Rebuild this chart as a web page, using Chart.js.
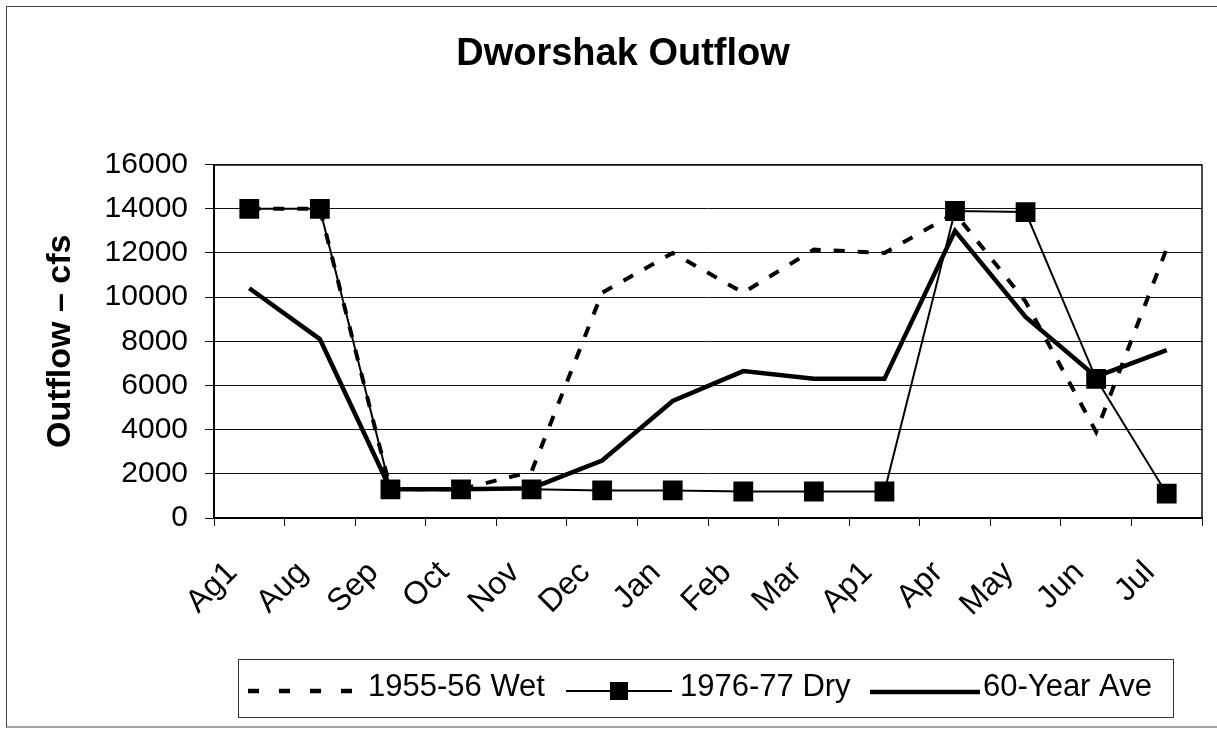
<!DOCTYPE html>
<html>
<head>
<meta charset="utf-8">
<script src="https://cdn.jsdelivr.net/npm/chart.js@4.4.1/dist/chart.umd.min.js"></script>
<style>
  html, body { margin: 0; padding: 0; background: #ffffff; }
  #wrap { width: 1217px; height: 730px; position: relative; }
  canvas { display: block; }
</style>
</head>
<body>
<div id="wrap"><canvas id="c" width="1217" height="730"></canvas></div>
<script>
// ---- data ----
const months = ['Ag1', 'Aug', 'Sep', 'Oct', 'Nov', 'Dec', 'Jan', 'Feb', 'Mar', 'Ap1', 'Apr', 'May', 'Jun', 'Jul'];
const wet1955 = [14000, 14000, 1300, 1300, 2100, 10200, 12000, 10200, 12150, 12000, 13800, 9800, 3900, 12200];
const dry1976 = [14000, 14000, 1300, 1300, 1300, 1250, 1250, 1200, 1200, 1200, 13900, 13850, 6300, 1100];
const ave60 = [10400, 8100, 1300, 1300, 1350, 2600, 5300, 6650, 6300, 6300, 13000, 9100, 6400, 7600];
const seriesNames = ['1955-56 Wet', '1976-77 Dry', '60-Year Ave'];
const yMin = 0, yMax = 16000, yStep = 2000;
const chartTitle = 'Dworshak Outflow';
const yTitle = 'Outflow \u2013 cfs';

const FONT = "'Liberation Sans', Arial, Helvetica, sans-serif";

const framePlugin = {
  id: 'frame',
  beforeDraw(chart) {
    const ctx = chart.ctx;
    ctx.save();
    ctx.fillStyle = '#ffffff';
    ctx.fillRect(0, 0, chart.width, chart.height);
    ctx.strokeStyle = '#444';
    ctx.lineWidth = 1;
    ctx.strokeRect(6.5, 6.5, 1240, 720.5);
    ctx.restore();
  },
  afterDatasetsDraw(chart) {
    const ctx = chart.ctx;
    const a = chart.chartArea;
    ctx.save();
    ctx.strokeStyle = '#111';
    ctx.lineWidth = 1.5;
    ctx.beginPath();
    ctx.moveTo(a.left, a.top + 0.5);
    ctx.lineTo(a.right, a.top + 0.5);
    ctx.lineTo(a.right, a.bottom);
    ctx.stroke();
    ctx.restore();
  },
  afterDraw(chart) {
    const ctx = chart.ctx;
    const ds = chart.data.datasets;
    ctx.save();
    // legend box
    ctx.strokeStyle = '#333';
    ctx.lineWidth = 1;
    ctx.strokeRect(238.5, 659.5, 935, 58);
    const ly = 691;
    ctx.strokeStyle = '#000';
    ctx.lineCap = 'butt';
    // wet sample
    ctx.lineWidth = ds[0].borderWidth + 0.5;
    ctx.setLineDash([11, 20]);
    ctx.beginPath(); ctx.moveTo(248, ly); ctx.lineTo(352, ly); ctx.stroke();
    ctx.setLineDash([]);
    // dry sample
    ctx.lineWidth = ds[1].borderWidth;
    ctx.beginPath(); ctx.moveTo(566, ly); ctx.lineTo(672, ly); ctx.stroke();
    ctx.fillStyle = '#000';
    ctx.fillRect(610, ly - 9, 18, 18);
    // ave sample
    ctx.lineWidth = ds[2].borderWidth;
    ctx.beginPath(); ctx.moveTo(870, ly + 1); ctx.lineTo(980, ly + 1); ctx.stroke();
    // texts
    ctx.fillStyle = '#000';
    ctx.font = '31px ' + FONT;
    ctx.textBaseline = 'alphabetic';
    ctx.textAlign = 'left';
    ctx.fillText(ds[0].label, 368, 696);
    ctx.fillText(ds[1].label, 680, 696);
    ctx.fillText(ds[2].label, 983, 696);
    ctx.restore();
  }
};

new Chart(document.getElementById('c'), {
  type: 'line',
  data: {
    labels: months,
    datasets: [
      {
        label: seriesNames[0], data: wet1955,
        borderColor: '#000', backgroundColor: '#000',
        borderWidth: 4, borderDash: [11, 13], pointRadius: 0,
        tension: 0, order: 1
      },
      {
        label: seriesNames[1], data: dry1976,
        borderColor: '#000', backgroundColor: '#000',
        borderWidth: 2, pointStyle: 'rect', pointRadius: 14,
        pointBackgroundColor: '#000', pointBorderColor: '#000', pointBorderWidth: 0,
        tension: 0, order: 0
      },
      {
        label: seriesNames[2], data: ave60,
        borderColor: '#000', backgroundColor: '#000',
        borderWidth: 4.5, pointRadius: 0,
        tension: 0, order: 2
      }
    ]
  },
  options: {
    responsive: false,
    animation: false,
    devicePixelRatio: 1,
    layout: { padding: { left: 44, right: 15, top: 0, bottom: 72 } },
    plugins: {
      legend: { display: false },
      tooltip: { enabled: false },
      title: {
        display: true,
        text: chartTitle,
        color: '#000',
        font: { family: FONT, size: 38, weight: 'bold', lineHeight: 1.2 },
        padding: { top: 32, bottom: 87 }
      }
    },
    scales: {
      x: {
        type: 'category',
        offset: true,
        afterFit(scale) { scale.height = 140; scale.paddingRight = 0; scale.paddingLeft = 0; },
        grid: {
          offset: true,
          drawOnChartArea: false,
          drawTicks: true,
          tickLength: 8,
          color: '#111',
          lineWidth: 1
        },
        border: { display: true, color: '#000', width: 2 },
        ticks: {
          autoSkip: false,
          minRotation: 45,
          maxRotation: 45,
          padding: 28,
          labelOffset: -17,
          color: '#000',
          font: { family: FONT, size: 32, lineHeight: 1.2 }
        }
      },
      y: {
        min: yMin,
        max: yMax,
        afterFit(scale) { scale.width = 170; },
        grid: {
          drawOnChartArea: true,
          drawTicks: true,
          tickLength: 9,
          color: '#111',
          lineWidth: 1
        },
        border: { display: true, color: '#000', width: 2 },
        ticks: {
          stepSize: yStep,
          padding: 17,
          color: '#000',
          font: { family: FONT, size: 30, lineHeight: 1.2 },
          callback: (v) => String(v)
        },
        title: {
          display: true,
          text: yTitle,
          color: '#000',
          font: { family: FONT, size: 34, weight: 'bold', lineHeight: 1 },
          padding: { top: 0, bottom: 0 }
        }
      }
    }
  },
  plugins: [framePlugin]
});
</script>
</body>
</html>
